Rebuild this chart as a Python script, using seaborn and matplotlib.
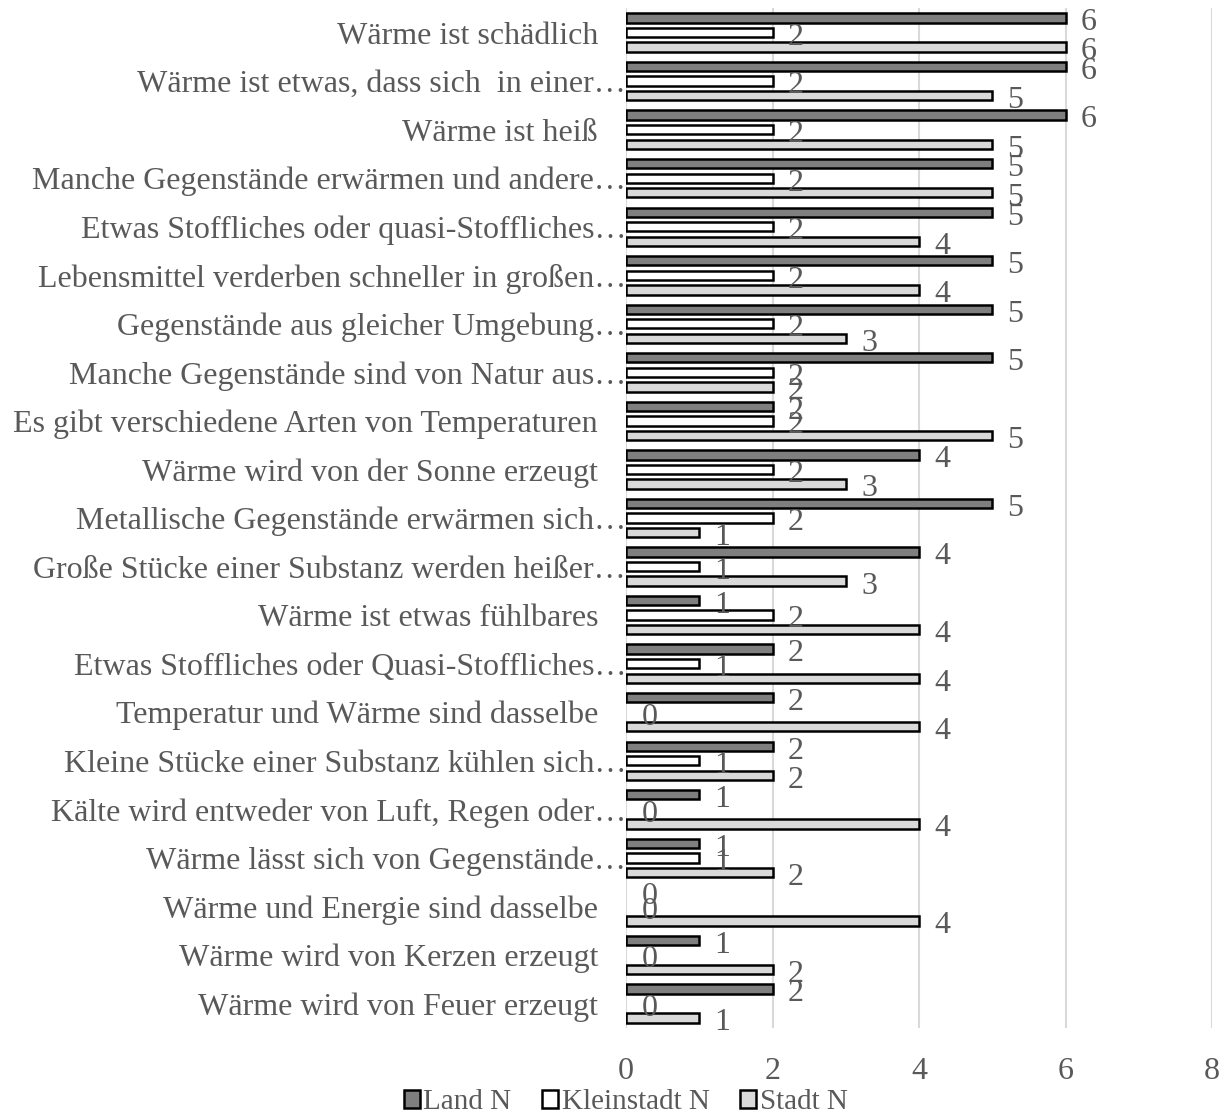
import numpy as np
import pandas as pd
import matplotlib
matplotlib.use("Agg")
import matplotlib.pyplot as plt
import matplotlib.transforms as mtransforms
from matplotlib.patches import Patch
import seaborn as sns

# Statements (top to bottom) and number of mentions per group
categories = [
    "Wärme ist schädlich",
    "Wärme ist etwas, dass sich  in einer…",
    "Wärme ist heiß",
    "Manche Gegenstände erwärmen und andere…",
    "Etwas Stoffliches oder quasi-Stoffliches…",
    "Lebensmittel verderben schneller in großen…",
    "Gegenstände aus gleicher Umgebung…",
    "Manche Gegenstände sind von Natur aus…",
    "Es gibt verschiedene Arten von Temperaturen",
    "Wärme wird von der Sonne erzeugt",
    "Metallische Gegenstände erwärmen sich…",
    "Große Stücke einer Substanz werden heißer…",
    "Wärme ist etwas fühlbares",
    "Etwas Stoffliches oder Quasi-Stoffliches…",
    "Temperatur und Wärme sind dasselbe",
    "Kleine Stücke einer Substanz kühlen sich…",
    "Kälte wird entweder von Luft, Regen oder…",
    "Wärme lässt sich von Gegenstände…",
    "Wärme und Energie sind dasselbe",
    "Wärme wird von Kerzen erzeugt",
    "Wärme wird von Feuer erzeugt",
]
land_n =       [6, 6, 6, 5, 5, 5, 5, 5, 2, 4, 5, 4, 1, 2, 2, 2, 1, 1, 0, 1, 2]
kleinstadt_n = [2, 2, 2, 2, 2, 2, 2, 2, 2, 2, 2, 1, 2, 1, 0, 1, 0, 1, 0, 0, 0]
stadt_n =      [6, 5, 5, 5, 4, 4, 3, 2, 5, 3, 1, 3, 4, 4, 4, 2, 4, 2, 4, 2, 1]
series_names = ["Land N", "Kleinstadt N", "Stadt N"]
x_ticks = [0, 2, 4, 6, 8]

colors = {"Land N": "#7f7f7f", "Kleinstadt N": "#ffffff", "Stadt N": "#d9d9d9"}
text_color = "#595959"
grid_color = "#d9d9d9"
fs = 23

df = pd.DataFrame({
    "Aussage": categories * 3,
    "Gruppe": [s for s in series_names for _ in categories],
    "N": land_n + kleinstadt_n + stadt_n,
})

sns.set_theme(style="white")
plt.rcParams["font.family"] = ["Liberation Serif", "DejaVu Serif"]

fig = plt.figure(figsize=(12.27, 11.15), dpi=100)
ax = fig.add_axes([0.5102, 0.0782, 0.4776, 0.9144])

sns.barplot(
    data=df, y="Aussage", x="N", hue="Gruppe", order=categories,
    hue_order=series_names, palette=colors, orient="h",
    width=0.9, gap=0.36, edgecolor="black", linewidth=1.8,
    legend=False, errorbar=None, ax=ax,
)

# empty bars get no outline
for p in ax.patches:
    if p.get_width() == 0:
        p.set_linewidth(0)

ax.set_xlim(0, 8)
ax.set_xticks(x_ticks)
ax.set_xticklabels([str(t) for t in x_ticks])
ax.set_xlabel("")
ax.set_ylabel("")
for s in ax.spines.values():
    s.set_visible(False)
ax.grid(axis="x", color=grid_color, linewidth=1.5)
ax.grid(axis="y", visible=False)
ax.set_axisbelow(True)
ax.tick_params(axis="both", length=0, labelsize=fs, labelcolor=text_color)
ax.tick_params(axis="x", pad=21)
ax.tick_params(axis="y", pad=0)

# labels without ellipsis sit a little further from the axis
for lab in ax.get_yticklabels():
    if not lab.get_text().endswith("…"):
        lab.set_transform(lab.get_transform() + mtransforms.ScaledTranslation(-28 / 100, 0, fig.dpi_scale_trans))

for cont in ax.containers:
    anns = ax.bar_label(cont, fmt="%d", padding=11, fontsize=fs, color=text_color)
    for a in anns:
        a.xyann = (11, -3.5)

handles = [Patch(facecolor=colors[s], edgecolor="black", linewidth=1.8, label=s) for s in series_names]
fig.legend(
    handles=handles, loc="center", bbox_to_anchor=(0.510, 0.0115), ncol=3,
    frameon=False, fontsize=21, labelcolor=text_color, borderpad=0.1,
    handlelength=0.55, handleheight=0.55, handletextpad=0.12, columnspacing=1.05,
)

fig.savefig("out.png", dpi=100)
